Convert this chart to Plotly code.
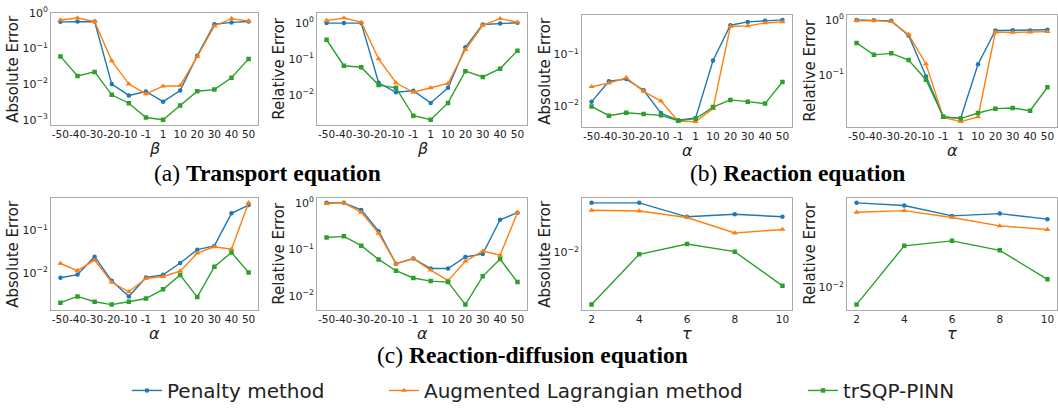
import numpy as np
import plotly.graph_objects as go

W, H = 1058, 410

# ---------------- data ----------------
param_cats = ["-50", "-40", "-30", "-20", "-10", "-1", "1", "10", "20", "30", "40", "50"]
tau_vals = [2, 4, 6, 8, 10]
series_names = ["Penalty method", "Augmented Lagrangian method", "trSQP-PINN"]

# (a) Transport equation
tr_abs_pen = [0.56, 0.57, 0.57, 0.010, 0.0048, 0.0062, 0.0032, 0.0066, 0.063, 0.48, 0.54, 0.57]
tr_abs_al = [0.63, 0.72, 0.57, 0.045, 0.010, 0.0053, 0.0087, 0.0090, 0.059, 0.43, 0.69, 0.59]
tr_abs_sqp = [0.060, 0.017, 0.022, 0.0050, 0.0029, 0.00115, 0.0010, 0.0025, 0.0063, 0.0070, 0.015, 0.051]

tr_rel_pen = [0.98, 0.98, 0.98, 0.022, 0.012, 0.0133, 0.0061, 0.016, 0.21, 0.90, 0.96, 1.0]
tr_rel_al = [1.15, 1.36, 1.04, 0.10, 0.022, 0.012, 0.016, 0.021, 0.18, 0.85, 1.30, 1.04]
tr_rel_sqp = [0.34, 0.065, 0.059, 0.019, 0.016, 0.0027, 0.0021, 0.0061, 0.046, 0.032, 0.054, 0.17]

# (b) Reaction equation
re_abs_pen = [0.0119, 0.030, 0.033, 0.020, 0.0072, 0.0052, 0.0058, 0.076, 0.37, 0.43, 0.45, 0.47]
re_abs_al = [0.0235, 0.0275, 0.035, 0.019, 0.0123, 0.0050, 0.0049, 0.0088, 0.35, 0.36, 0.41, 0.43]
re_abs_sqp = [0.0097, 0.0064, 0.0073, 0.0069, 0.0065, 0.0051, 0.0056, 0.0094, 0.013, 0.012, 0.011, 0.029]

re_rel_pen = [1.0, 0.99, 0.96, 0.52, 0.093, 0.017, 0.016, 0.155, 0.64, 0.645, 0.64, 0.66]
re_rel_al = [0.96, 0.97, 0.93, 0.54, 0.157, 0.0166, 0.0139, 0.017, 0.60, 0.59, 0.60, 0.61]
re_rel_sqp = [0.38, 0.23, 0.245, 0.185, 0.081, 0.017, 0.0158, 0.020, 0.024, 0.0246, 0.022, 0.059]

# (c) Reaction-diffusion equation (vs alpha)
rd_abs_pen = [0.0077, 0.0091, 0.024, 0.0065, 0.0028, 0.0078, 0.0090, 0.017, 0.035, 0.043, 0.25, 0.39]
rd_abs_al = [0.0166, 0.0113, 0.020, 0.0060, 0.0036, 0.0074, 0.0082, 0.011, 0.029, 0.041, 0.036, 0.44]
rd_abs_sqp = [0.0020, 0.0028, 0.0021, 0.0018, 0.0021, 0.0025, 0.0041, 0.0089, 0.0027, 0.014, 0.030, 0.0102]

rd_rel_pen = [0.99, 0.99, 0.70, 0.245, 0.0495, 0.064, 0.039, 0.039, 0.069, 0.080, 0.43, 0.61]
rd_rel_al = [0.95, 0.99, 0.62, 0.22, 0.0495, 0.063, 0.036, 0.0215, 0.056, 0.092, 0.075, 0.61]
rd_rel_sqp = [0.18, 0.19, 0.12, 0.061, 0.035, 0.0245, 0.021, 0.020, 0.0066, 0.0265, 0.062, 0.020]

# (c) Reaction-diffusion equation (vs tau)
rdt_abs_pen = [0.0458, 0.0458, 0.0298, 0.0323, 0.0298]
rdt_abs_al = [0.0364, 0.0356, 0.0292, 0.0181, 0.0202]
rdt_abs_sqp = [0.0020, 0.0094, 0.0129, 0.0102, 0.00356]

rdt_rel_pen = [0.0736, 0.0692, 0.0541, 0.0571, 0.0501]
rdt_rel_al = [0.0589, 0.0612, 0.0521, 0.0427, 0.0392]
rdt_rel_sqp = [0.00666, 0.0267, 0.030, 0.024, 0.0121]

# ---------------- styles / layout ----------------
colors = ["#1f77b4", "#ff7f0e", "#2ca02c"]
symbols = ["circle", "triangle-up", "square"]
msizes = [4.5, 5.5, 4.5]
legend_ids = ["legend", "legend2", "legend3"]

panels = [
    dict(x=param_cats, ys=[tr_abs_pen, tr_abs_al, tr_abs_sqp], xl="β", yl="Absolute Error", box=(51, 258, 5, 120), ytx=13),
    dict(x=param_cats, ys=[tr_rel_pen, tr_rel_al, tr_rel_sqp], xl="β", yl="Relative Error", box=(317, 527, 5, 120), ytx=279),
    dict(x=param_cats, ys=[re_abs_pen, re_abs_al, re_abs_sqp], xl="α", yl="Absolute Error", box=(582, 792, 7, 122), ytx=545),
    dict(x=param_cats, ys=[re_rel_pen, re_rel_al, re_rel_sqp], xl="α", yl="Relative Error", box=(847, 1057, 7, 122), ytx=810),
    dict(x=param_cats, ys=[rd_abs_pen, rd_abs_al, rd_abs_sqp], xl="α", yl="Absolute Error", box=(51, 258, 195, 310), ytx=13),
    dict(x=param_cats, ys=[rd_rel_pen, rd_rel_al, rd_rel_sqp], xl="α", yl="Relative Error", box=(317, 527, 195, 310), ytx=279),
    dict(x=tau_vals, ys=[rdt_abs_pen, rdt_abs_al, rdt_abs_sqp], xl="τ", yl="Absolute Error", box=(582, 792, 195, 310), ytx=545),
    dict(x=tau_vals, ys=[rdt_rel_pen, rdt_rel_al, rdt_rel_sqp], xl="τ", yl="Relative Error", box=(847, 1057, 195, 310), ytx=810),
]

FONT = "DejaVu Sans"
TXT = "#222222"
SPINE = "#aaaaaa"

fig = go.Figure()
layout = {}
annotations = []


def sup(d):
    return "10<sup>%s</sup>" % (str(d) if d >= 0 else "\u2212%d" % (-d))


for i, p in enumerate(panels):
    k = i + 1
    xa = "x" if k == 1 else "x%d" % k
    ya = "y" if k == 1 else "y%d" % k
    x0, x1, y0, y1 = p["box"]
    for j in range(3):
        fig.add_trace(go.Scatter(
            x=p["x"], y=p["ys"][j], mode="lines+markers", name=series_names[j],
            line=dict(color=colors[j], width=1.4),
            marker=dict(symbol=symbols[j], size=msizes[j], color=colors[j]),
            xaxis=xa, yaxis=ya, showlegend=(k == 1), legend=legend_ids[j],
        ))
    allv = np.log10(np.concatenate([np.asarray(s, dtype=float) for s in p["ys"]]))
    lo, hi = allv.min(), allv.max()
    m = 0.05 * (hi - lo)
    yr = [lo - m, hi + m]
    decs = list(range(int(np.ceil(yr[0])), int(np.floor(yr[1])) + 1))
    yaxis = dict(
        type="log", range=yr, domain=[1 - y1 / H, 1 - y0 / H], anchor=xa,
        tickvals=[10.0 ** d for d in decs], ticktext=[sup(d) for d in decs],
        showgrid=False, zeroline=False, showline=True, mirror=True,
        linecolor=SPINE, linewidth=1, ticks="",
        tickfont=dict(family=FONT, size=11, color=TXT),
    )
    if isinstance(p["x"][0], str):
        xaxis = dict(type="category", categoryorder="array", categoryarray=p["x"],
                     range=[-0.55, len(p["x"]) - 0.45])
    else:
        span = max(p["x"]) - min(p["x"])
        xaxis = dict(type="linear", range=[min(p["x"]) - 0.05 * span, max(p["x"]) + 0.05 * span],
                     tickvals=p["x"])
    xaxis.update(domain=[x0 / W, x1 / W], anchor=ya, showgrid=False, zeroline=False,
                 showline=True, mirror=True, linecolor=SPINE, linewidth=1, ticks="",
                 tickangle=0, tickfont=dict(family=FONT, size=10.5, color=TXT))
    layout["xaxis" if k == 1 else "xaxis%d" % k] = xaxis
    layout["yaxis" if k == 1 else "yaxis%d" % k] = yaxis
    # axis titles
    annotations.append(dict(text="<i>%s</i>" % p["xl"], x=(x0 + x1) / 2 / W, y=1 - (y1 + 24) / H,
                            xref="paper", yref="paper", showarrow=False, xanchor="center", yanchor="middle",
                            font=dict(family=FONT, size=16, color=TXT)))
    annotations.append(dict(text=p["yl"], x=p["ytx"] / W, y=1 - (y0 + y1) / 2 / H,
                            xref="paper", yref="paper", showarrow=False, textangle=-90,
                            xanchor="center", yanchor="middle",
                            font=dict(family=FONT, size=15, color=TXT)))

# captions
CAP = "Liberation Serif"
for txt, cx, cy in [("(a) <b>Transport equation</b>", 267, 170),
                    ("(b) <b>Reaction equation</b>", 797, 170),
                    ("(c) <b>Reaction-diffusion equation</b>", 532, 357)]:
    annotations.append(dict(text=txt, x=cx / W, y=1 - cy / H, xref="paper", yref="paper",
                            showarrow=False, xanchor="center", yanchor="middle",
                            font=dict(family=CAP, size=23.5, color="black")))

leg_common = dict(orientation="h", xanchor="left", yanchor="middle", y=1 - 393 / H,
                  font=dict(family=FONT, size=20, color=TXT), bgcolor="rgba(0,0,0,0)",
                  borderwidth=0)
layout["legend"] = dict(x=127 / W, **leg_common)
layout["legend2"] = dict(x=384 / W, **leg_common)
layout["legend3"] = dict(x=803 / W, **leg_common)

fig.update_layout(
    width=W, height=H, margin=dict(l=0, r=0, t=0, b=0),
    paper_bgcolor="white", plot_bgcolor="white",
    annotations=annotations, **layout,
)

fig.write_html("out.html")
